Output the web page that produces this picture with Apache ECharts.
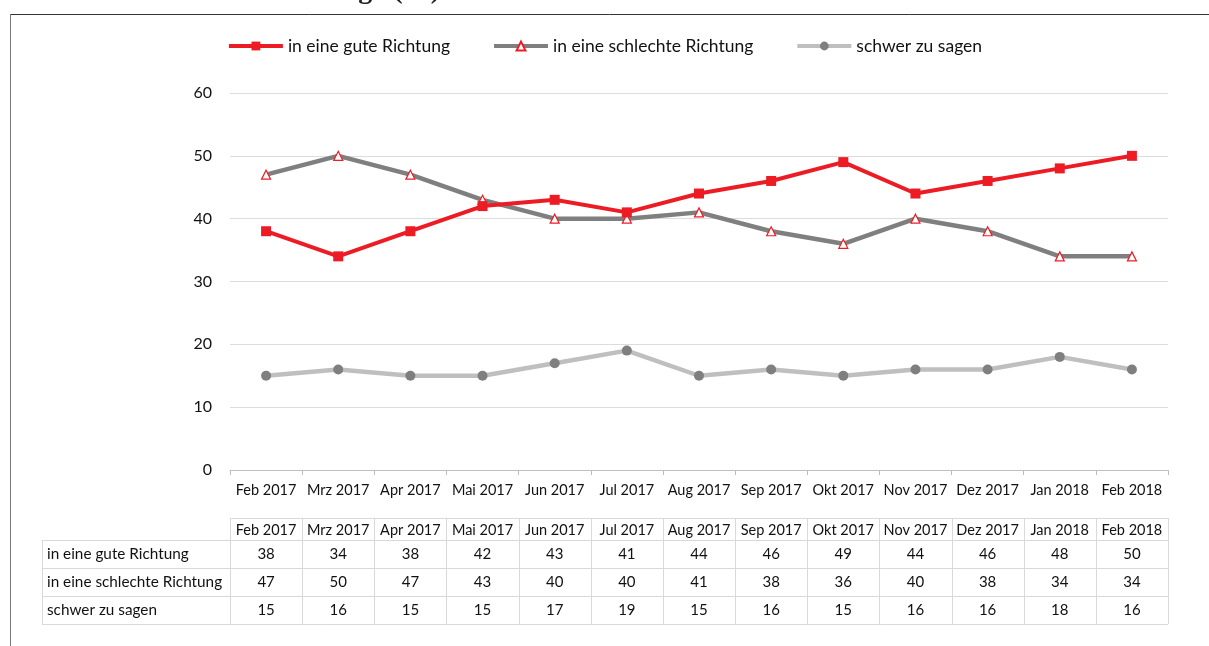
<!DOCTYPE html>
<html><head><meta charset="utf-8">
<script src="https://cdn.jsdelivr.net/npm/echarts@6/dist/echarts.min.js"></script>
<style>html,body{margin:0;padding:0;background:#fff}#c{width:1209px;height:646px}</style>
</head><body><div id="c"></div>
<script>
const categories = ['Feb 2017','Mrz 2017','Apr 2017','Mai 2017','Jun 2017','Jul 2017','Aug 2017','Sep 2017','Okt 2017','Nov 2017','Dez 2017','Jan 2018','Feb 2018'];
const seriesNames = ['in eine gute Richtung','in eine schlechte Richtung','schwer zu sagen'];
const gut = [38,34,38,42,43,41,44,46,49,44,46,48,50];
const schlecht = [47,50,47,43,40,40,41,38,36,40,38,34,34];
const schwer = [15,16,15,15,17,19,15,16,15,16,16,18,16];
const yTicks = {min:0, max:60, interval:10};
const titleText = 'schlechte Richtung? (%)';

const FONT = 'Lato, "Noto Sans", sans-serif';
const gridL = 230, gridR = 1168, gridT = 93, gridB = 470;
const colW = (gridR - gridL) / categories.length;
const rows = [gut, schlecht, schwer];
const tblTop = 518, hdrH = 22, rowH = 28, tblLeft = 42;
const lineC = '#d9d9d9';

const graphic = [];
graphic.push({type:'line', shape:{x1:10,y1:14.5,x2:1209,y2:14.5}, style:{stroke:'#333',lineWidth:1}});
graphic.push({type:'line', shape:{x1:10.5,y1:14,x2:10.5,y2:646}, style:{stroke:'#777',lineWidth:1}});
graphic.push({type:'text', x:440, y:-23, style:{text:titleText, textAlign:'right', font:'bold 28px "Liberation Serif", serif', fill:'#222'}});
const tblBottom = tblTop + hdrH + rowH*3;
graphic.push({type:'line', shape:{x1:gridL,y1:tblTop+0.5,x2:gridR,y2:tblTop+0.5}, style:{stroke:lineC}});
for (let r=0;r<=3;r++){
  const y = tblTop + hdrH + r*rowH + 0.5;
  graphic.push({type:'line', shape:{x1:tblLeft,y1:y,x2:gridR,y2:y}, style:{stroke:lineC}});
}
for (let i=0;i<=categories.length;i++){
  const x = Math.round(gridL + i*colW) + 0.5;
  graphic.push({type:'line', shape:{x1:x,y1:tblTop,x2:x,y2:tblBottom}, style:{stroke:lineC}});
}
graphic.push({type:'line', shape:{x1:tblLeft+0.5,y1:tblTop+hdrH,x2:tblLeft+0.5,y2:tblBottom}, style:{stroke:lineC}});
categories.forEach((c,i)=>{
  graphic.push({type:'text', x:gridL + (i+0.5)*colW, y:tblTop + hdrH/2 + 1, style:{text:c, textAlign:'center', textVerticalAlign:'middle', font:'14.5px '+FONT, fill:'#111'}});
});
rows.forEach((arr,r)=>{
  const yc = tblTop + hdrH + r*rowH + rowH/2;
  graphic.push({type:'text', x:tblLeft+5, y:yc, style:{text:seriesNames[r], textAlign:'left', textVerticalAlign:'middle', font:'15.3px '+FONT, fill:'#111'}});
  arr.forEach((v,i)=>{
    graphic.push({type:'text', x:gridL + (i+0.5)*colW, y:yc, style:{text:String(v), textAlign:'center', textVerticalAlign:'middle', font:'15px '+FONT, fill:'#111'}});
  });
});

const chart = echarts.init(document.getElementById('c'), null, {renderer:'canvas'});
chart.setOption({
  animation:false,
  backgroundColor:'#fff',
  textStyle:{fontFamily:FONT},
  legend:{
    top:32, left:'center', itemWidth:54, itemHeight:11, itemGap:42,
    lineStyle:{width:4},
    textStyle:{fontSize:17.5, color:'#111', fontFamily:FONT},
    data:seriesNames
  },
  grid:{left:gridL, right:1209-gridR, top:gridT, bottom:646-gridB, containLabel:false},
  xAxis:{
    type:'category', data:categories, boundaryGap:true,
    axisLine:{lineStyle:{color:'#bfbfbf', width:1}},
    axisTick:{show:true, length:5, lineStyle:{color:'#bfbfbf'}},
    axisLabel:{fontSize:14.5, color:'#111', margin:13, interval:0, fontFamily:FONT}
  },
  yAxis:{
    type:'value', min:yTicks.min, max:yTicks.max, interval:yTicks.interval,
    axisLine:{show:false}, axisTick:{show:false},
    splitLine:{lineStyle:{color:'#dcdcdc', width:1}},
    axisLabel:{fontSize:16, color:'#111', margin:18, fontFamily:FONT}
  },
  series:[
    {name:seriesNames[0], type:'line', data:gut, symbol:'rect', symbolSize:10,
     lineStyle:{color:'#ED1C24', width:4}, itemStyle:{color:'#ED1C24'}, z:4},
    {name:seriesNames[1], type:'line', data:schlecht, symbol:'triangle', symbolSize:9,
     lineStyle:{color:'#7f7f7f', width:4.5}, itemStyle:{color:'#fff', borderColor:'#ED1C24', borderWidth:1.2}, z:3},
    {name:seriesNames[2], type:'line', data:schwer, symbol:'circle', symbolSize:10,
     lineStyle:{color:'#bfbfbf', width:4.5}, itemStyle:{color:'#7f7f7f'}, z:2}
  ],
  graphic:graphic
});
</script></body></html>
